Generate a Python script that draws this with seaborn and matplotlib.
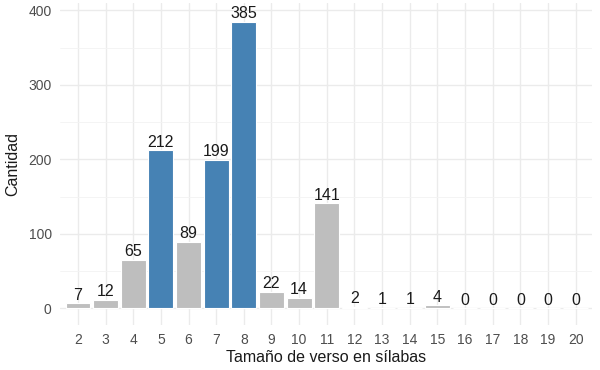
import matplotlib
matplotlib.use("Agg")
import pandas as pd
import matplotlib.pyplot as plt
import seaborn as sns

# syllable counts and number of verses
silabas = list(range(2, 21))
cantidad = [7, 12, 65, 212, 89, 199, 385, 22, 14, 141, 2, 1, 1, 4, 0, 0, 0, 0, 0]
destacadas = [5, 7, 8]

df = pd.DataFrame({'silabas': [str(s) for s in silabas], 'cantidad': cantidad})
df['grupo'] = ['si' if s in destacadas else 'no' for s in silabas]

sns.set_style('whitegrid')
plt.rcParams['font.family'] = ['Liberation Sans', 'DejaVu Sans']

fig = plt.figure(figsize=(6, 3.7), dpi=100)
ax = fig.add_axes([0.1, 0.122, 0.887, 0.87])

sns.barplot(data=df, x='silabas', y='cantidad', hue='grupo',
            palette={'si': '#4682B4', 'no': '#BEBEBE'}, dodge=False, saturation=1,
            width=0.9, edgecolor='white', linewidth=0.8, legend=False, ax=ax)

for i, v in enumerate(cantidad):
    ax.text(i, v + 1, str(v), ha='center', va='bottom', fontsize=11.5, color='#1a1a1a')

ax.set_ylim(-22, 410)
ax.set_xlim(-0.65, len(silabas) - 0.4)
ax.set_yticks([0, 100, 200, 300, 400])
ax.set_yticks([50, 150, 250, 350], minor=True)
ax.grid(True, which='major', color='#EBEBEB', linewidth=1.0)
ax.grid(True, which='minor', axis='y', color='#F3F3F3', linewidth=0.6)
ax.set_axisbelow(True)
for s in ax.spines.values():
    s.set_visible(False)
ax.tick_params(axis='both', which='both', length=0, labelsize=10, labelcolor='#4D4D4D', pad=6)
ax.set_xlabel('Tamaño de verso en sílabas', fontsize=11.5, color='#1a1a1a', labelpad=2)
ax.set_ylabel('Cantidad', fontsize=11.5, color='#1a1a1a', labelpad=6)

plt.savefig('out.png', dpi=100)
